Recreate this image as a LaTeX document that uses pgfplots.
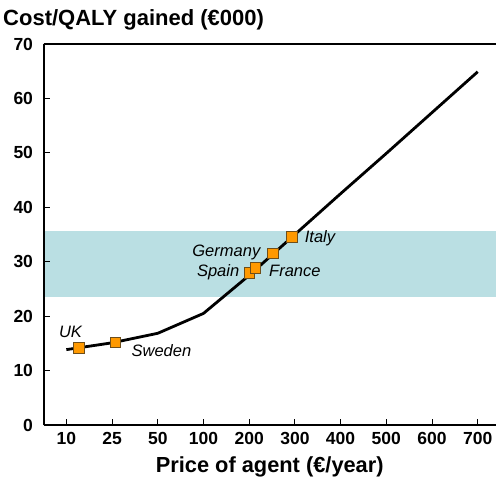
\documentclass[border=0pt]{standalone}
\usepackage{fontspec}
\setmainfont{Liberation Sans}
\usepackage{pgfplots}
\pgfplotsset{compat=1.18}
\definecolor{band}{HTML}{BADFE3}
\definecolor{mk}{HTML}{FF9900}
\definecolor{mkb}{HTML}{6E4E1A}

\begin{document}
\begin{tikzpicture}
\begin{axis}[
    scale only axis,
    width=452.5pt, height=381pt,
    xmin=-0.5, xmax=9.4, ymin=0, ymax=70,
    axis x line*=bottom, axis y line*=left,
    every outer x axis line/.append style={-},
    every outer y axis line/.append style={-},
    axis line style={-, line width=2pt},
    axis on top,
    xtick={0,...,9},
    xticklabels={10,25,50,100,200,300,400,500,600,700},
    ytick={0,10,...,70},
    tick align=inside,
    major tick length=6pt,
    tick style={black, line width=1pt},
    /pgf/number format/assume math mode=true,
    ticklabel style={font=\bfseries\fontsize{17.5}{17.5}\selectfont},
    yticklabel style={xshift=-7pt},
    xticklabel style={yshift=-4pt},
    xlabel={Price of agent (€/year)},
    xlabel style={font=\bfseries\fontsize{21.8}{21.8}\selectfont, yshift=-5pt},
    clip=false,
]
\addplot[draw=none, fill=band] coordinates {(-0.5,23.5) (9.4,23.5) (9.4,35.7) (-0.5,35.7)} -- cycle;
\addplot[black, line width=2.8pt] coordinates {
(0,13.85) (1,15.1) (2,16.85) (3,20.5) (4,27.5) (5,35.0) (6,42.5) (7,49.9) (8,57.4) (9,64.9)
};
\addplot[only marks, mark=square*, mark size=5.3pt,
    mark options={fill=mk, draw=mkb, line width=0.9pt}] coordinates {
(0.28,14.2) (1.07,15.2) (4.01,27.9) (4.14,28.8) (4.52,31.5) (4.94,34.6)
};
\draw[line width=2pt] (rel axis cs:0,1) -- (rel axis cs:1,1);
\begin{scope}[every node/.style={font=\itshape\fontsize{16.5}{16.5}\selectfont, inner sep=0pt}]
\node at (axis cs:0.09,17.1) {UK};
\node at (axis cs:2.08,13.65) {Sweden};
\node at (axis cs:3.5,31.7) {Germany};
\node at (axis cs:3.32,28.05) {Spain};
\node at (axis cs:5.0,28.35) {France};
\node at (axis cs:5.55,34.3) {Italy};
\end{scope}
\node[anchor=base west, inner sep=0pt, font=\bfseries\fontsize{22}{22}\selectfont]
    at ([xshift=-40.5pt, yshift=18pt]rel axis cs:0,1) {Cost/QALY gained (€000)};
\coordinate (ll) at (rel axis cs:0,0);
\coordinate (ur) at (rel axis cs:1,1);
\end{axis}
\pgfresetboundingbox
\path ([xshift=-43.5pt, yshift=-67pt]ll) rectangle ([yshift=44pt]ur);
\end{tikzpicture}
\end{document}
